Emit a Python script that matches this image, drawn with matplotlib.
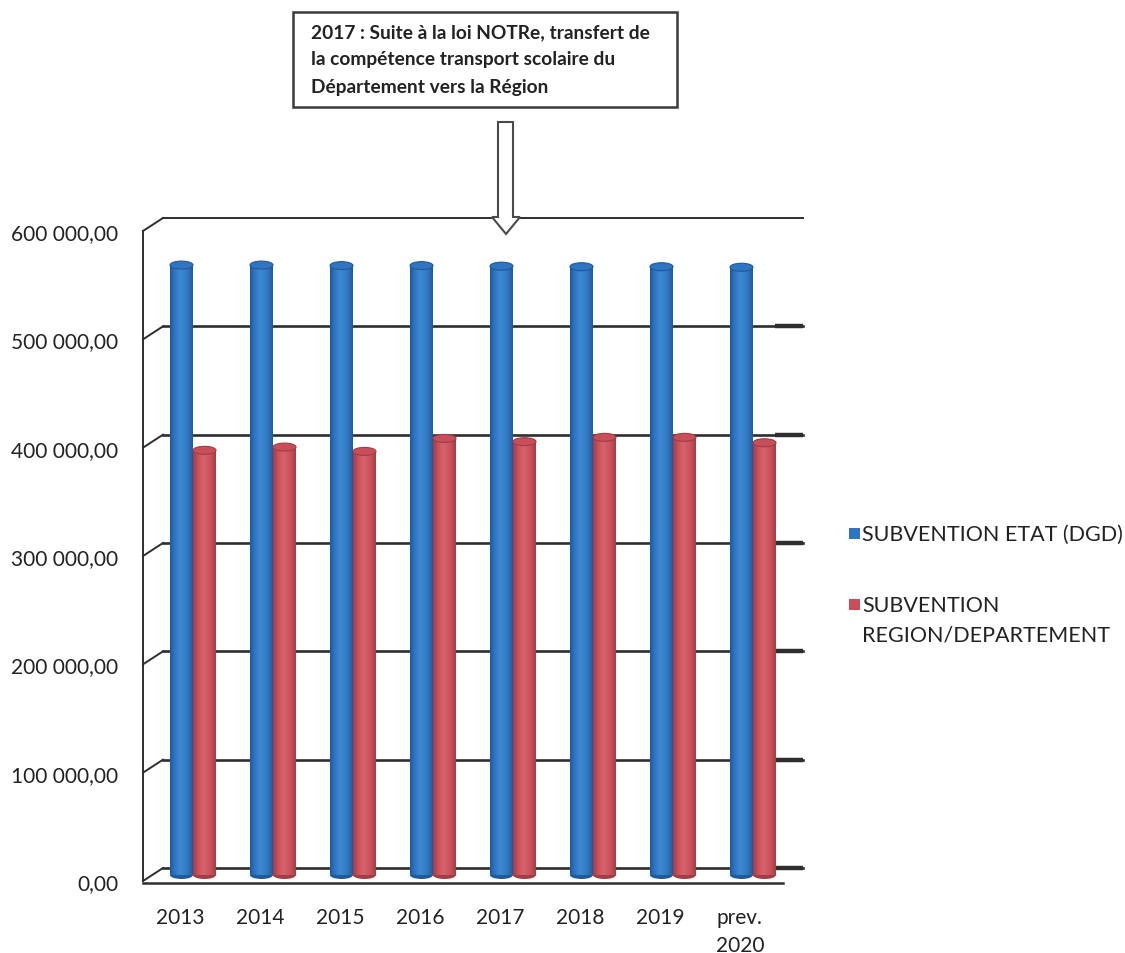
import numpy as np
import matplotlib
matplotlib.use("Agg")
import matplotlib.pyplot as plt
from matplotlib.patches import Ellipse, Polygon, Rectangle
from matplotlib.colors import LinearSegmentedColormap

plt.rcParams['font.family'] = ['Lato', 'DejaVu Sans']

# data
years = ['2013', '2014', '2015', '2016', '2017', '2018', '2019', 'prev.\n2020']
dgd = [563000, 563000, 562500, 562500, 562000, 561500, 561500, 561000]
region = [392000, 395000, 391000, 403000, 400000, 404000, 404000, 399000]
y_ticks = [0, 100000, 200000, 300000, 400000, 500000, 600000]
y_tick_labels = ['0,00', '100 000,00', '200 000,00', '300 000,00',
                 '400 000,00', '500 000,00', '600 000,00']
series_names = ['SUBVENTION ETAT (DGD)', 'SUBVENTION\nREGION/DEPARTEMENT']
note_lines = ['2017 : Suite à la loi NOTRe, transfert de',
              'la compétence transport scolaire du',
              'Département vers la Région']

W, H = 1125, 954
TXT = '#222222'
LINE = '#2e2e2e'


def fpx(x, y):
    # pixel position -> figure fraction
    return x / W, 1 - y / H


fig = plt.figure(figsize=(W / 100, H / 100), dpi=100)
ax = fig.add_axes([143 / W, (H - 882) / H, (783 - 143) / W, (882 - 232) / H])
xmin, xmax = -0.5, 7.5
ymin, ymax = 0, 600000
px_x = (783 - 143) / (xmax - xmin)
px_y = (882 - 232) / (ymax - ymin)

# depth offsets of the fake 3D box (back wall / bar plane)
back_dx, back_dy = 20 / px_x, 13 / px_y
mid_dx, mid_dy = 10 / px_x, 6 / px_y

# back wall gridlines + left diagonals
for v in y_ticks:
    lw = 1.4 if v == ymax else 1.9
    ax.plot([xmin + back_dx, xmax + back_dx], [v + back_dy, v + back_dy],
            color=LINE, lw=lw, clip_on=False, zorder=1)
    ax.plot([xmin, xmin + back_dx], [v, v + back_dy],
            color=LINE, lw=1.4, clip_on=False, zorder=1)
    if v < ymax:
        ax.plot([xmax + back_dx - 28 / px_x, xmax + back_dx], [v + back_dy, v + back_dy],
                color=LINE, lw=3.2, clip_on=False, zorder=1, solid_capstyle='butt')

# front left axis and front floor edge
ax.plot([xmin, xmin], [0, ymax], color=LINE, lw=1.4, clip_on=False, zorder=1)
ax.plot([xmin, xmax], [-2 / px_y, -2 / px_y], color=LINE, lw=1.8, clip_on=False, zorder=1)

# cylinders
bw = 23 / px_x
cap_h = 8 / px_y
styles = [('#21599a', '#2e76c2', '#4089d2'), ('#a03c46', '#c84f59', '#d6646c')]
grad = np.linspace(0, 1, 64).reshape(1, -1)
x = np.arange(len(years))
for k, (vals, (dark, base, light)) in enumerate(zip([dgd, region], styles)):
    cmap = LinearSegmentedColormap.from_list('cyl%d' % k,
                                             [(0, dark), (0.2, base), (0.45, light),
                                              (0.8, base), (1, dark)])
    offs = (-0.5 + k) * bw
    for xi, v in zip(x, vals):
        c = xi + offs + mid_dx
        ax.imshow(grad, extent=[c - bw / 2, c + bw / 2, mid_dy, v + mid_dy],
                  cmap=cmap, aspect='auto', interpolation='bilinear', zorder=3)
        ax.add_patch(Ellipse((c, mid_dy), bw, cap_h, facecolor=dark,
                             edgecolor='none', zorder=2.9))
        ax.add_patch(Ellipse((c, v + mid_dy), bw, cap_h, facecolor=base,
                             edgecolor=dark, lw=0.8, zorder=3.1))

ax.set_xlim(xmin, xmax)
ax.set_ylim(ymin, ymax)
for s in ax.spines.values():
    s.set_visible(False)
ax.set_xticks(x - 0.04)
ax.set_xticklabels(years, fontsize=15, color=TXT, va='top', linespacing=1.45)
ax.set_yticks(y_ticks)
ax.set_yticklabels(y_tick_labels, fontsize=15, color=TXT)
ax.tick_params(axis='x', length=0, pad=19)
ax.tick_params(axis='y', length=0, pad=18)

# legend (drawn by hand to keep Excel's layout)
leg_y = [535, 606]
for name, (dark, base, light), y in zip(series_names, styles, leg_y):
    sx, sy = fpx(849, y + 5)
    fig.add_artist(Rectangle((sx, sy), 11 / W, 11 / H, transform=fig.transFigure,
                             facecolor=base, edgecolor='none'))
    for j, line in enumerate(name.split('\n')):
        tx, ty = fpx(862, y + 29 * j)
        fig.text(tx, ty, line, fontsize=15.5, color=TXT, va='center', ha='left')

# annotation box with hollow arrow
bx0, by0 = fpx(293, 108)
fig.add_artist(Rectangle((bx0, by0), (677 - 293) / W, (108 - 13) / H,
                         transform=fig.transFigure, facecolor='white',
                         edgecolor='#3a3a3a', lw=1.8, zorder=5))
for j, line in enumerate(note_lines):
    tx, ty = fpx(311, 33 + 27 * j)
    fig.text(tx, ty, line, fontsize=13.8, fontweight='bold', color=TXT,
             va='center', ha='left', zorder=6)

arrow_px = [(498, 123), (513, 123), (513, 218), (520, 218), (506, 235),
            (492, 218), (498, 218)]
fig.add_artist(Polygon([fpx(a, b) for a, b in arrow_px], closed=True,
                       transform=fig.transFigure, facecolor='white',
                       edgecolor='#4a4a4a', lw=1.5, zorder=5))

fig.savefig('out.png', dpi=100, facecolor='white')
